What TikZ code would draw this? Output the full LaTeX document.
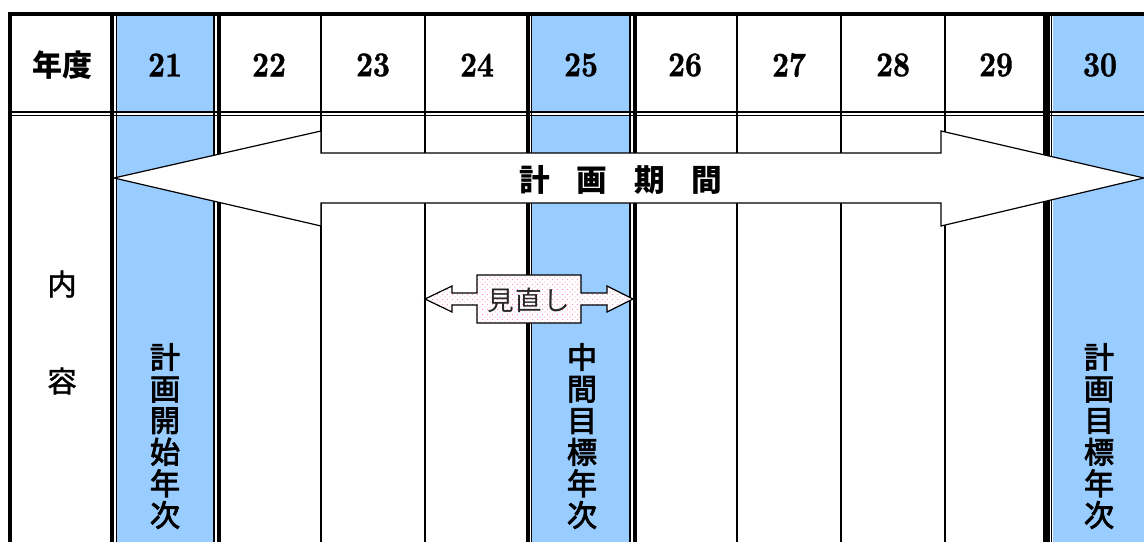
\documentclass[tikz,border=0pt]{standalone}
\usepackage{fontspec}
\newfontfamily\jp{Noto Sans CJK JP}
\newfontfamily\jpm[FakeBold=3]{Noto Sans CJK JP}
\newfontfamily\jps[FakeBold=1.5]{Noto Sans CJK JP}
\newfontfamily\numfont[FakeStretch=0.85, FakeBold=1.2]{lmroman10-bold.otf}
\usetikzlibrary{patterns}
\definecolor{colblue}{RGB}{153,204,255}
\definecolor{dotpink}{RGB}{255,140,200}
\pgfdeclarepatternformonly{pinkdots}{\pgfqpoint{-1pt}{-1pt}}{\pgfqpoint{4.75pt}{4.75pt}}{\pgfqpoint{3.75pt}{3.75pt}}{%
  \pgfpathcircle{\pgfqpoint{0pt}{0pt}}{0.45pt}%
  \pgfpathcircle{\pgfqpoint{1.875pt}{1.875pt}}{0.45pt}%
  \pgfusepath{fill}}
\begin{document}
\begin{tikzpicture}[x=0.75pt,y=-0.75pt,
  thickv/.style={line width=3pt},
  thinv/.style={line width=1pt},
  gridv/.style={line width=1.1pt},
  numtext/.style={font={\numfont\fontsize{26}{28}\selectfont}, inner sep=0pt},
  hdrjp/.style={font={\jp\bfseries\fontsize{22.5}{24}\selectfont}, inner sep=0pt},
  sidejp/.style={font={\jps\fontsize{22}{24}\selectfont}, inner sep=0pt},
  vtext/.style={font={\jpm\fontsize{22.5}{23.7}\selectfont}, align=center, inner sep=0pt},
  bigarrow/.style={draw, fill=white, line width=0.9pt, line join=miter},
  reviewarrow/.style={draw, line width=0.9pt, line join=miter, preaction={fill=white}, pattern=pinkdots, pattern color=dotpink}
]
\useasboundingbox (0,0) rectangle (1144,542);
% blue columns
\fill[colblue] (117,16) rectangle (213,542);
\fill[colblue] (532,16) rectangle (629,542);
\fill[colblue] (1053,16) rectangle (1144,542);
% header bottom double line
\fill[white] (10,113) rectangle (1144,114.8);
\draw[line width=1.6pt] (10,112) -- (1144,112);
\draw[line width=1pt] (10,115.7) -- (1144,115.7);
% top border
\draw[line width=2.6pt] (8.8,14) -- (1144,14);
% vertical lines
\draw[thickv] (10.3,12.3) -- (10.3,542);
\draw[thickv] (112,14) -- (112,542);
\draw[thinv] (116.6,14) -- (116.6,542);
\draw[thinv] (214,14) -- (214,542);
\draw[thickv] (218.7,14) -- (218.7,542);
\draw[gridv] (321,14) -- (321,542);
\draw[gridv] (425,14) -- (425,542);
\draw[thickv] (528,14) -- (528,542);
\draw[thinv] (531.7,14) -- (531.7,542);
\draw[thinv] (630,14) -- (630,542);
\draw[thickv] (634.7,14) -- (634.7,542);
\draw[gridv] (737,14) -- (737,542);
\draw[gridv] (841,14) -- (841,542);
\draw[gridv] (945,14) -- (945,542);
\draw[line width=5.5pt] (1046.3,14) -- (1046.3,542);
\draw[thinv] (1051.8,14) -- (1051.8,542);
% header texts
\node[hdrjp] (year) at (62,65) {年度};
\node[numtext] (y21) at (165,65) {21};
\node[numtext] (y22) at (269,65) {22};
\node[numtext] (y23) at (373,65) {23};
\node[numtext] (y24) at (477,65) {24};
\node[numtext] (y25) at (581,65) {25};
\node[numtext] (y26) at (685,65) {26};
\node[numtext] (y27) at (789,65) {27};
\node[numtext] (y28) at (893,65) {28};
\node[numtext] (y29) at (996,65) {29};
\node[numtext] (y30) at (1100,65) {30};
% side labels
\node[sidejp] (nai) at (62,284) {内};
\node[sidejp] (you) at (62,381) {容};
% planning period arrow
\path[bigarrow] (114,178) -- (321,131) -- (321,153) -- (941,153) -- (941,131) -- (1144,178)
  -- (941,226) -- (941,203) -- (321,203) -- (321,226) -- cycle;
\node[font={\jp\bfseries\fontsize{23}{24}\selectfont}, inner sep=0pt] (plan) at (621,180) {計\hspace{20pt}画\hspace{20pt}期\hspace{20pt}間};
% review arrow
\path[reviewarrow] (425,299) -- (452,286) -- (452,293) -- (477,293) -- (477,275) -- (581,275)
  -- (581,293) -- (607,293) -- (607,286) -- (633,299) -- (607,312) -- (607,305) -- (581,305)
  -- (581,323) -- (477,323) -- (477,305) -- (452,305) -- (452,312) -- cycle;
\node[font={\jp\fontsize{20}{22}\selectfont}, text=black!85, inner sep=0pt] (review) at (529,300) {見\hspace{0.8pt}直\hspace{0.8pt}し};
% vertical labels
\node[vtext] (start) at (165,436) {計\\画\\開\\始\\年\\次};
\node[vtext] (mid) at (582,436) {中\\間\\目\\標\\年\\次};
\node[vtext] (target) at (1099,436) {計\\画\\目\\標\\年\\次};
\end{tikzpicture}
\end{document}
